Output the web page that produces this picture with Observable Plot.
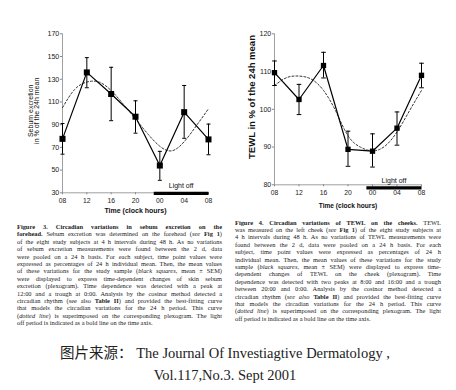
<!DOCTYPE html>
<html><head><meta charset="utf-8">
<script src="https://cdn.jsdelivr.net/npm/d3@7"></script>
<script src="https://cdn.jsdelivr.net/npm/@observablehq/plot@0.6"></script>
<style>
body{margin:0;background:#fff;}
#wrap{position:relative;width:456px;height:390px;overflow:hidden;background:#fff;}
.chart{position:absolute;top:0;}
.cap{position:absolute;font-family:"Liberation Serif","Times New Roman",serif;font-size:6.4px;line-height:7.4px;color:#222;}
.cap div{text-align:justify;text-align-last:justify;}
.cap div.last{text-align-last:left;}
.src{position:absolute;left:0;top:342px;width:450px;text-align:center;font-family:"Liberation Serif","Noto Sans CJK SC",serif;font-size:14.5px;line-height:22px;color:#222;}
</style></head><body>
<div id="wrap">
 <div id="c1" class="chart" style="left:0"></div>
 <div id="c2" class="chart" style="left:228px"></div>
 <div class="cap" style="left:17px;top:223px;width:205px">
  <div><b>Figure 3. Circadian variations in sebum excretion on the</b></div>
  <div><b>forehead.</b> Sebum excretion was determined on the forehead (<i>see</i> <b>Fig 1</b>)</div>
  <div>of the eight study subjects at 4 h intervals during 48 h. As no variations</div>
  <div>of sebum excretion measurements were found between the 2 d, data</div>
  <div>were pooled on a 24 h basis. For each subject, time point values were</div>
  <div>expressed as percentages of 24 h individual mean. Then, the mean values</div>
  <div>of these variations for the study sample (<i>black squares</i>, mean ± SEM)</div>
  <div>were displayed to express time-dependent changes of skin sebum</div>
  <div>excretion (plexogram). Time dependence was detected with a peak at</div>
  <div>12:00 and a trough at 0:00. Analysis by the cosinor method detected a</div>
  <div>circadian rhythm (see also <b>Table II</b>) and provided the best-fitting curve</div>
  <div>that models the circadian variations for the 24 h period. This curve</div>
  <div>(<i>dotted line</i>) is superimposed on the corresponding plexogram. The light</div>
  <div class="last">off period is indicated as a bold line on the time axis.</div>
 </div>
 <div class="cap" style="left:235px;top:218.5px;width:206px">
  <div><b>Figure 4. Circadian variations of TEWL on the cheeks.</b> TEWL</div>
  <div>was measured on the left cheek (<i>see</i> <b>Fig 1</b>) of the eight study subjects at</div>
  <div>4 h intervals during 48 h. As no variations of TEWL measurements were</div>
  <div>found between the 2 d, data were pooled on a 24 h basis. For each</div>
  <div>subject, time point values were expressed as percentages of 24 h</div>
  <div>individual mean. Then, the mean values of these variations for the study</div>
  <div>sample (<i>black squares</i>, mean ± SEM) were displayed to express time-</div>
  <div>dependent changes of TEWL on the cheek (plexogram). Time</div>
  <div>dependence was detected with two peaks at 8:00 and 16:00 and a trough</div>
  <div>between 20:00 and 0:00. Analysis by the cosinor method detected a</div>
  <div>circadian rhythm (<i>see also</i> <b>Table II</b>) and provided the best-fitting curve</div>
  <div>that models the circadian variations for the 24 h period. This curve</div>
  <div>(<i>dotted line</i>) is superimposed on the corresponding plexogram. The light</div>
  <div class="last">off period is indicated as a bold line on the time axis.</div>
 </div>
 <div class="src">图片来源：&nbsp;The Journal Of Investiagtive Dermatology ,<br>Vol.117,No.3. Sept 2001</div>
</div>
<script>
// hours after 08:00
const hours = [0, 4, 8, 12, 16, 20, 24];
const hourLabels = ["08", "12", "16", "20", "00", "04", "08"];
const fitHours = [0, 2, 4, 6, 8, 10, 12, 14, 16, 18, 20, 22, 24];
const lightOff = [15, 24];

// Figure 3 – sebum excretion
const sebumMean = [77.5, 136, 117, 97, 54, 101, 77];
const sebumLow  = [64, 122.5, 93.5, 82.5, 41, 78, 63.5];
const sebumHigh = [91, 149, 140.5, 111, 66.5, 124.5, 90.5];
const sebumFit  = [105, 121, 127.5, 127.5, 120, 108, 95, 82, 71, 67, 75, 89, 104];
const sebumTicks = [30, 50, 70, 90, 110, 130, 150, 170];

// Figure 4 – TEWL
const tewlMean = [109.7, 102.6, 111.6, 89.4, 88.9, 95, 109];
const tewlLow  = [106.3, 98.6, 108.3, 84.9, 84.7, 90.5, 105.7];
const tewlHigh = [112.8, 106.6, 115.1, 94.2, 93.5, 99.3, 112.2];
const tewlFit  = [106.3, 108.4, 108.8, 108, 105, 99.5, 93, 90, 89, 90.2, 94, 99.5, 105];
const tewlTicks = [80, 90, 100, 110, 120];

function capSym(w) {
  return {draw(ctx) { ctx.moveTo(-w, 0); ctx.lineTo(w, 0); }};
}

function chart(o) {
  const data = hours.map((t, i) => ({t, m: o.mean[i], lo: o.low[i], hi: o.high[i]}));
  const fit = fitHours.map((t, i) => ({t, v: o.fit[i]}));
  const ymin = o.ticks[0], ymax = o.ticks[o.ticks.length - 1];
  return Plot.plot({
    width: o.width, height: o.height,
    marginLeft: o.ml, marginRight: o.mr, marginTop: o.mt, marginBottom: o.mb,
    style: {fontFamily: "'Liberation Sans', Arial, sans-serif", fontSize: "7px", color: "#222", background: "transparent", overflow: "visible"},
    x: {domain: [0, 24]},
    y: {domain: [ymin, ymax]},
    marks: [
      Plot.ruleY([ymin], {stroke: "#888", strokeWidth: 0.8}),
      Plot.ruleX([0], {stroke: "#888", strokeWidth: 0.8}),
      Plot.axisX({ticks: hours, tickFormat: d => hourLabels[hours.indexOf(d)], tickSize: 2, tickPadding: o.xpad, label: null, fontSize: 6.8, stroke: "#888"}),
      Plot.axisY({ticks: o.ticks, tickSize: 2, tickPadding: 1.2, label: null, fontSize: 7.1, stroke: "#888"}),
      Plot.text([o.xTitle], {frameAnchor: "bottom", dy: o.xTitleDy, fontWeight: "bold", fontSize: o.xTitleSize, fill: "#111"}),
      Plot.text([o.yTitle], {frameAnchor: "left", textAnchor: "middle", dx: o.yTitleDx, dy: o.yTitleDy, rotate: -90, fontSize: o.yTitleSize, fontWeight: o.yTitleWeight, lineHeight: 0.95, fill: "#111"}),
      Plot.link([lightOff], {x1: d => d[0], x2: d => d[1], y1: () => ymin, y2: () => ymin, dy: o.barDy, stroke: "#000", strokeWidth: 3.2}),
      Plot.text([lightOff], {x: d => (d[0] + d[1]) / 2, y: () => ymin, dy: o.lightDy, text: () => "Light off", fontSize: 7, fill: "#111"}),
      Plot.line(fit, {x: "t", y: "v", curve: "natural", stroke: "#333", strokeWidth: 1, strokeDasharray: "2,2"}),
      Plot.ruleX(data, {x: "t", y1: "lo", y2: "hi", stroke: "#000", strokeWidth: 1}),
      Plot.dot(data, {x: "t", y: "lo", symbol: capSym(o.capW), r: 1, fill: "none", stroke: "#000", strokeWidth: 1}),
      Plot.dot(data, {x: "t", y: "hi", symbol: capSym(o.capW), r: 1, fill: "none", stroke: "#000", strokeWidth: 1}),
      Plot.line(data, {x: "t", y: "m", stroke: "#000", strokeWidth: 1.2}),
      Plot.dot(data, {x: "t", y: "m", symbol: "square", r: o.sq, fill: "#000", stroke: "none"})
    ]
  });
}

document.getElementById("c1").append(chart({
  width: 228, height: 220, ml: 62, mr: 20, mt: 33.3, mb: 27.7,
  mean: sebumMean, low: sebumLow, high: sebumHigh, fit: sebumFit, ticks: sebumTicks,
  xpad: 3, xTitle: "Time (clock hours)", xTitleDy: 20.3, xTitleSize: 7,
  yTitle: "Sebum excretion\nin % of the 24h mean", yTitleDx: -28.6, yTitleDy: -2.5, yTitleSize: 7, yTitleWeight: "normal",
  barDy: 0.5, lightDy: -7.5, capW: 2, sq: 3.4
}));

document.getElementById("c2").append(chart({
  width: 228, height: 215, ml: 46, mr: 35, mt: 33.3, mb: 30.7,
  mean: tewlMean, low: tewlLow, high: tewlHigh, fit: tewlFit, ticks: tewlTicks,
  xpad: 3.5, xTitle: "Time (clock hours)", xTitleDy: 23.3, xTitleSize: 6.6,
  yTitle: "TEWL in % of the 24h mean", yTitleDx: -22, yTitleDy: -12.3, yTitleSize: 9.5, yTitleWeight: "bold",
  barDy: 3, lightDy: -4, capW: 2.3, sq: 3.0
}));
</script>
</body></html>
